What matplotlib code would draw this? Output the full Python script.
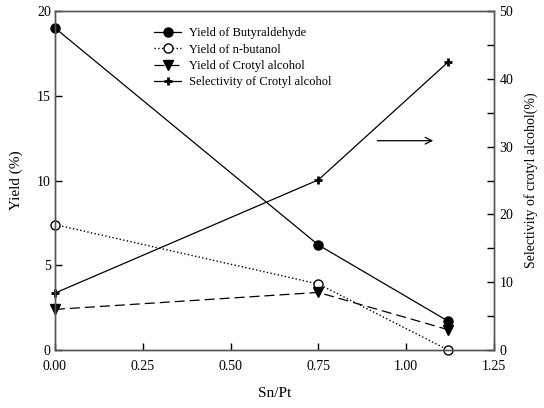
import numpy as np
import matplotlib
matplotlib.use('Agg')
import matplotlib.pyplot as plt
from matplotlib.legend_handler import HandlerLine2D

plt.rcParams['font.family'] = ['Liberation Serif', 'DejaVu Serif']
plt.rcParams['mathtext.fontset'] = 'stix'

# Sn/Pt ratio and results
sn_pt = [0.0, 0.75, 1.12]
yield_butyraldehyde = [19.0, 6.2, 1.7]
yield_butanol = [7.4, 3.9, 0.0]
yield_crotyl = [2.4, 3.4, 1.2]
selectivity_crotyl = [8.4, 25.1, 42.5]


class MarkerLeftHandler(HandlerLine2D):
    # put the legend marker at the left end of the line
    def get_xdata(self, legend, xdescent, ydescent, width, height, fontsize):
        xdata = np.array([-xdescent, -xdescent + width])
        xmark = np.array([-xdescent + 0.1 * width])
        return xdata, xmark


fig = plt.figure(figsize=(5.44, 4.08), dpi=100)
ax = fig.add_axes([0.101, 0.142, 0.807, 0.831])
ax2 = ax.twinx()

spine_col = '#555555'

l1, = ax.plot(sn_pt, yield_butyraldehyde, '-', color='black', lw=0.9,
              marker='o', ms=6.5, mfc='black', mec='black',
              label='Yield of Butyraldehyde')
l2, = ax.plot(sn_pt, yield_butanol, ':', color='black', lw=1.0,
              marker='o', ms=6.5, mfc='white', mec='black',
              label='Yield of n-butanol')
l3, = ax.plot(sn_pt, yield_crotyl, '--', color='black', lw=0.9,
              dashes=(8, 4), marker='v', ms=6.5, mfc='black', mec='black',
              label='Yield of Crotyl alcohol')
l4, = ax2.plot(sn_pt, selectivity_crotyl, '-', color='black', lw=0.9,
               marker='+', ms=6, mew=2, label='Selectivity of Crotyl alcohol')

for a in (ax, ax2):
    for s in a.spines.values():
        s.set_color(spine_col)
        s.set_linewidth(1.0)
    a.set_clip_on(False)

for ln in (l1, l2, l3, l4):
    ln.set_clip_on(False)

ax.set_xlim(0, 1.25)
ax.set_ylim(0, 20)
ax2.set_ylim(0, 50)

ax.set_xticks([0.0, 0.25, 0.5, 0.75, 1.0, 1.25])
ax.set_xticklabels(['0.00', '0.25', '0.50', '0.75', '1.00', '1.25'])
ax.set_yticks([0, 5, 10, 15, 20])
ax2.set_yticks([0, 10, 20, 30, 40, 50])
ax2.set_yticks([5, 15, 25, 35, 45], minor=True)

ax.tick_params(axis='both', direction='in', length=5, width=1, color='black',
               labelsize=10, pad=3)
ax.tick_params(axis='x', pad=7)
ax2.tick_params(axis='y', which='major', direction='in', length=5, width=1,
                color='black', labelsize=10, pad=4)
ax2.tick_params(axis='y', which='minor', direction='in', length=5, width=1,
                color='black')

ax.set_xlabel('Sn/Pt', fontsize=11, labelpad=10)
ax.set_ylabel('Yield (%)', fontsize=11, labelpad=10)
ax2.set_ylabel('Selectivity of crotyl alcohol(%)', fontsize=10, labelpad=8)

# arrow pointing to the right-hand axis
ax.annotate('', xy=(1.085, 12.35), xytext=(0.91, 12.35),
            arrowprops=dict(arrowstyle='->', color='black', lw=0.9,
                            mutation_scale=12))

handles = [l1, l2, l3, l4]
leg = ax.legend(handles, [h.get_label() for h in handles],
                loc='upper left', bbox_to_anchor=(0.2, 0.985),
                frameon=False, fontsize=9, numpoints=1, handlelength=2.2,
                handletextpad=0.6, labelspacing=0.35,
                handler_map={h: MarkerLeftHandler() for h in handles})

fig.savefig('out.png', dpi=100)
